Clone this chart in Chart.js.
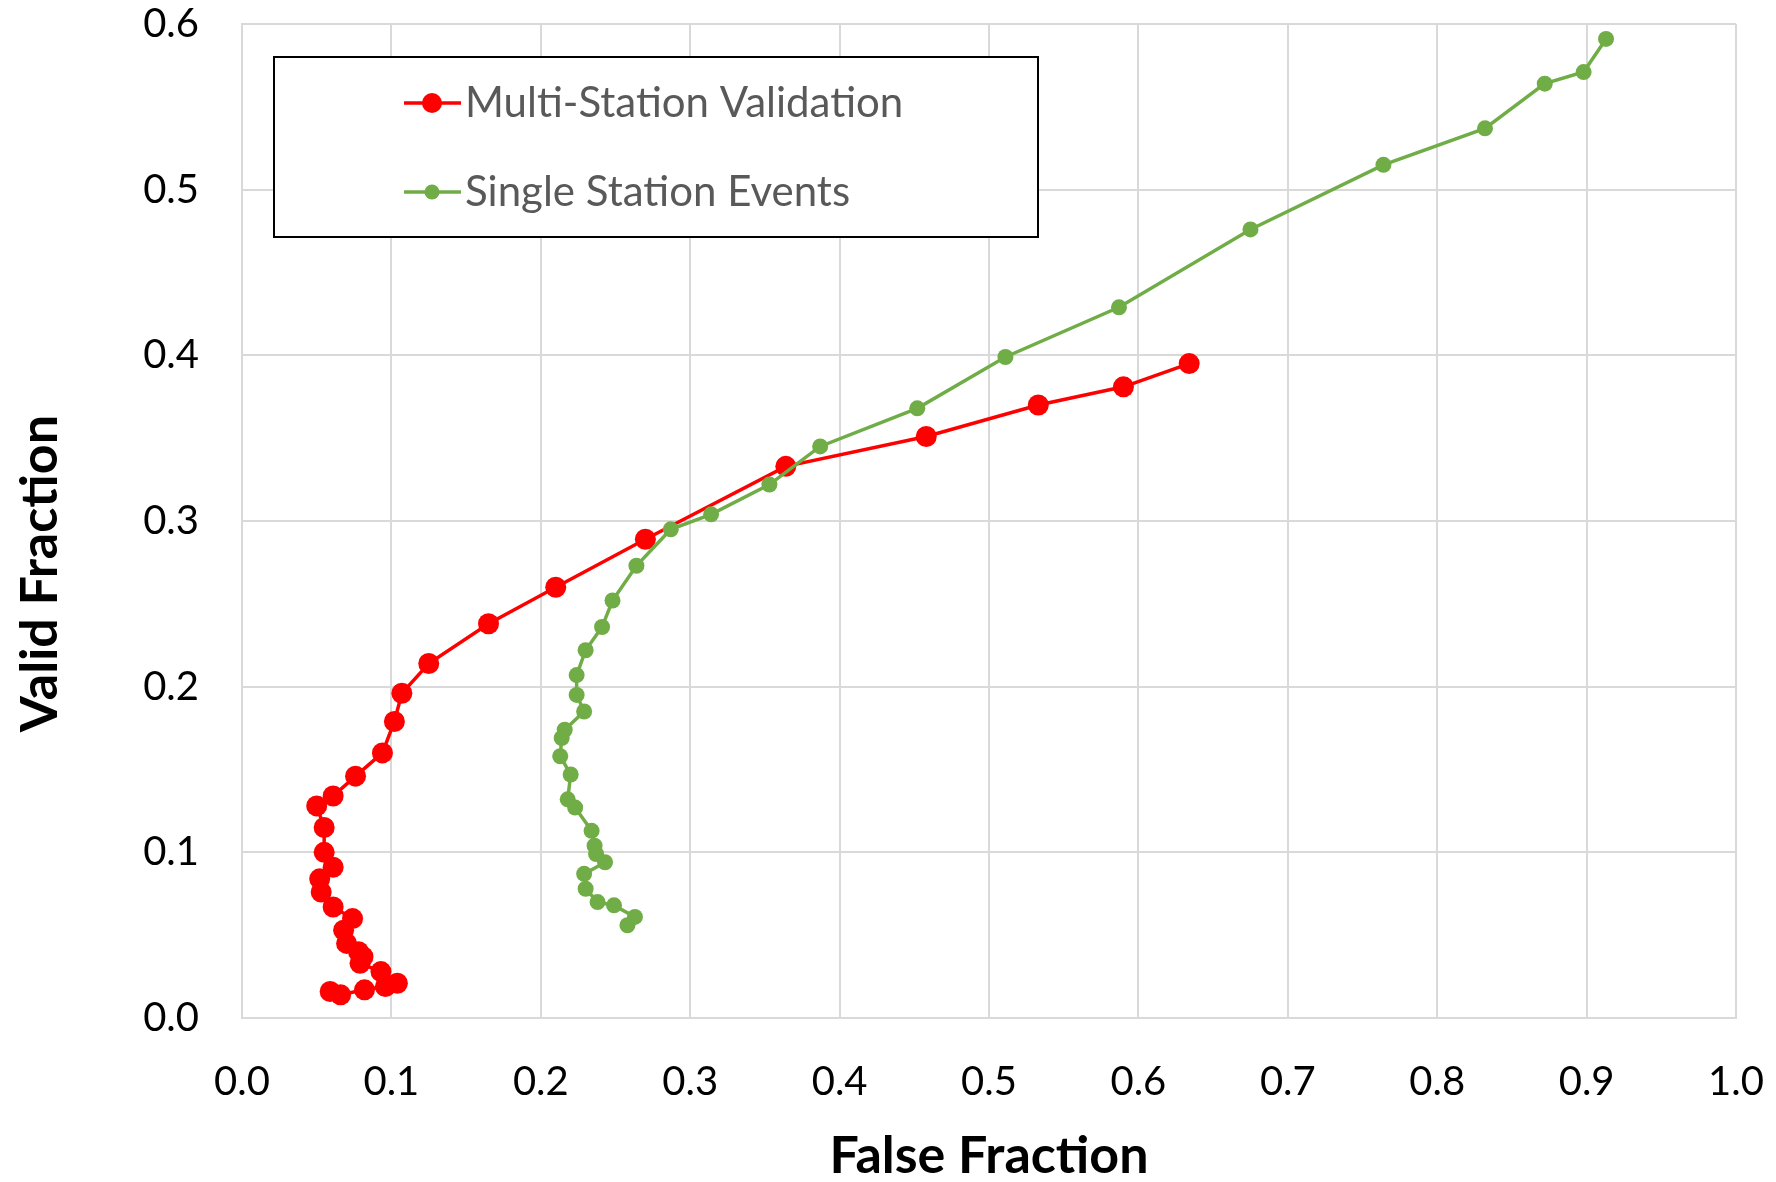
<!DOCTYPE html>
<html>
<head>
<meta charset="utf-8">
<script src="https://cdn.jsdelivr.net/npm/chart.js@4.4.1/dist/chart.umd.min.js"></script>
<style>
  html, body { margin: 0; padding: 0; background: #ffffff; }
  #wrap { width: 1776px; height: 1182px; }
</style>
</head>
<body>
<div id="wrap"><canvas id="rocChart"></canvas></div>
<script>
// Multi-station validation curve (false fraction, valid fraction)
const multiFalse = [0.634, 0.590, 0.533, 0.458, 0.364, 0.270, 0.210, 0.165, 0.125, 0.107,
  0.102, 0.094, 0.076, 0.061, 0.050, 0.055, 0.055, 0.061, 0.052, 0.053,
  0.061, 0.074, 0.068, 0.070, 0.078, 0.081, 0.079, 0.093, 0.104, 0.096,
  0.082, 0.066, 0.059];
const multiValid = [0.395, 0.381, 0.370, 0.351, 0.333, 0.289, 0.260, 0.238, 0.214, 0.196,
  0.179, 0.160, 0.146, 0.134, 0.128, 0.115, 0.100, 0.091, 0.084, 0.076,
  0.067, 0.060, 0.053, 0.045, 0.040, 0.037, 0.033, 0.028, 0.021, 0.019,
  0.017, 0.014, 0.016];

// Single station events curve
const singleFalse = [0.913, 0.898, 0.872, 0.832, 0.764, 0.675, 0.587, 0.511, 0.452, 0.387,
  0.353, 0.314, 0.287, 0.264, 0.248, 0.241, 0.230, 0.224, 0.224, 0.229,
  0.216, 0.214, 0.213, 0.220, 0.218, 0.223, 0.234, 0.236, 0.237, 0.243,
  0.229, 0.230, 0.238, 0.249, 0.263, 0.258];
const singleValid = [0.591, 0.571, 0.564, 0.537, 0.515, 0.476, 0.429, 0.399, 0.368, 0.345,
  0.322, 0.304, 0.295, 0.273, 0.252, 0.236, 0.222, 0.207, 0.195, 0.185,
  0.174, 0.169, 0.158, 0.147, 0.132, 0.127, 0.113, 0.104, 0.099, 0.094,
  0.087, 0.078, 0.070, 0.068, 0.061, 0.056];

const xTicks = [0, 0.1, 0.2, 0.3, 0.4, 0.5, 0.6, 0.7, 0.8, 0.9, 1.0];
const yTicks = [0, 0.1, 0.2, 0.3, 0.4, 0.5, 0.6];

const FONT = 'Lato, "Open Sans", sans-serif';

function toPoints(xs, ys) {
    return xs.map((x, i) => ({ x: x, y: ys[i] }));
}

// drop the extra room Chart.js keeps for overhanging end labels
function noLabelPadding(scale) {
    scale.paddingTop = 0;
    scale.paddingBottom = 0;
    scale.paddingLeft = 0;
    scale.paddingRight = 0;
}

// Boxed legend drawn inside the plot area, upper left
const boxLegend = {
    id: 'boxLegend',
    afterDraw(chart) {
        const ctx = chart.ctx;
        const area = chart.chartArea;
        const left = area.left + 32;
        const top = area.top + 33;
        ctx.save();
        ctx.fillStyle = '#ffffff';
        ctx.fillRect(left, top, 764, 180);
        ctx.strokeStyle = '#000000';
        ctx.lineWidth = 2;
        ctx.strokeRect(left, top, 764, 180);

        const rows = [
            { ds: chart.data.datasets[0], y: top + 46, r: 10 },
            { ds: chart.data.datasets[1], y: top + 135, r: 7.5 }
        ];
        rows.forEach(row => {
            const cx = left + 158;
            ctx.strokeStyle = row.ds.borderColor;
            ctx.lineWidth = 3.5;
            ctx.beginPath();
            ctx.moveTo(cx - 28, row.y);
            ctx.lineTo(cx + 29, row.y);
            ctx.stroke();
            ctx.fillStyle = row.ds.backgroundColor;
            ctx.beginPath();
            ctx.arc(cx, row.y, row.r, 0, Math.PI * 2);
            ctx.fill();
            ctx.fillStyle = '#595959';
            ctx.font = '42px ' + FONT;
            ctx.textBaseline = 'middle';
            ctx.textAlign = 'left';
            ctx.fillText(row.ds.label, cx + 33, row.y);
        });
        ctx.restore();
    }
};

// Y axis title, placed like the original (a little below centre)
const yTitle = {
    id: 'yTitle',
    afterDraw(chart) {
        const ctx = chart.ctx;
        const area = chart.chartArea;
        ctx.save();
        ctx.translate(40, area.top + (area.bottom - area.top) * 0.553);
        ctx.rotate(-Math.PI / 2);
        ctx.font = 'bold 52px ' + FONT;
        ctx.fillStyle = '#000000';
        ctx.textAlign = 'center';
        ctx.textBaseline = 'middle';
        ctx.fillText('Valid Fraction', 0, 0);
        ctx.restore();
    }
};

new Chart(document.getElementById('rocChart'), {
    type: 'scatter',
    data: {
        datasets: [{
            label: 'Multi-Station Validation',
            data: toPoints(multiFalse, multiValid),
            showLine: true,
            borderColor: '#ff0000',
            backgroundColor: '#ff0000',
            borderWidth: 3.5,
            pointRadius: 10.5,
            pointHoverRadius: 10.5,
            pointBorderWidth: 0,
            order: 1
        }, {
            label: 'Single Station Events',
            data: toPoints(singleFalse, singleValid),
            showLine: true,
            borderColor: '#70ad47',
            backgroundColor: '#70ad47',
            borderWidth: 3.5,
            pointRadius: 8,
            pointHoverRadius: 8,
            pointBorderWidth: 0,
            order: 0
        }]
    },
    options: {
        responsive: true,
        maintainAspectRatio: false,
        animation: false,
        layout: { padding: { top: 24, right: 40, left: 0, bottom: 0 } },
        plugins: {
            legend: { display: false },
            tooltip: { enabled: false }
        },
        scales: {
            x: {
                type: 'linear',
                min: 0,
                max: 1,
                afterBuildTicks: scale => { scale.ticks = xTicks.map(v => ({ value: v })); },
                afterFit: scale => { scale.height = 164; noLabelPadding(scale); },
                grid: { color: '#d9d9d9', lineWidth: 2, drawTicks: false },
                border: { color: '#d9d9d9', width: 2 },
                ticks: {
                    padding: 40,
                    color: '#000000',
                    font: { family: FONT, size: 40 },
                    callback: v => v.toFixed(1)
                },
                title: {
                    display: true,
                    text: 'False Fraction',
                    color: '#000000',
                    font: { family: FONT, size: 52, weight: 'bold', lineHeight: 1 },
                    padding: { top: 0, bottom: 0 }
                }
            },
            y: {
                type: 'linear',
                min: 0,
                max: 0.6,
                afterBuildTicks: scale => { scale.ticks = yTicks.map(v => ({ value: v })); },
                afterFit: scale => { scale.width = 242; noLabelPadding(scale); },
                grid: { color: '#d9d9d9', lineWidth: 2, drawTicks: false },
                border: { color: '#d9d9d9', width: 2 },
                ticks: {
                    padding: 43,
                    color: '#000000',
                    font: { family: FONT, size: 40 },
                    callback: v => v.toFixed(1)
                }
            }
        }
    },
    plugins: [boxLegend, yTitle]
});
</script>
</body>
</html>
